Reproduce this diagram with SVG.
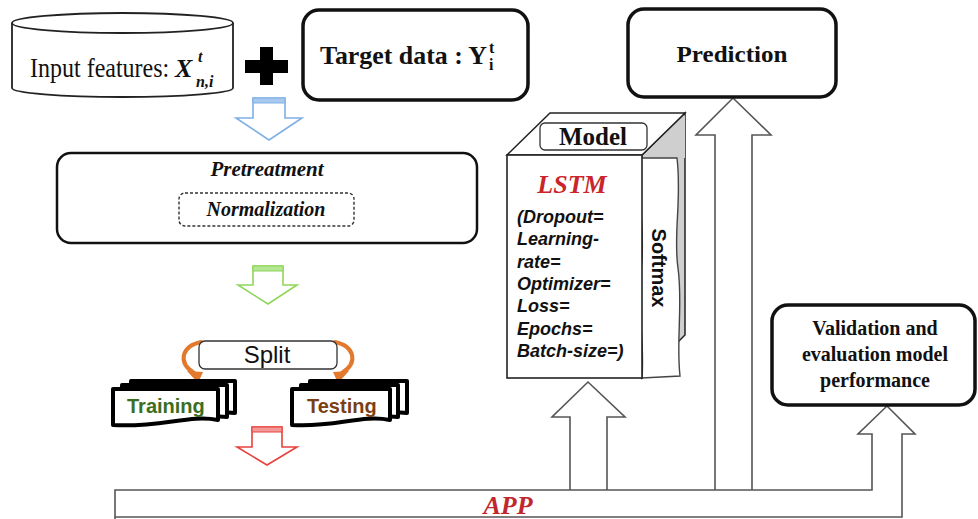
<svg xmlns="http://www.w3.org/2000/svg" width="978" height="519" viewBox="0 0 978 519">
<defs>
<style>
.serif{font-family:"Liberation Serif","Times New Roman",serif}
.sans{font-family:"Liberation Sans",Arial,sans-serif}
.bold{font-weight:bold}
.ital{font-style:italic}
.box{fill:#fff;stroke:#111;stroke-width:3.5}
.big{fill:#fff;stroke:#555;stroke-width:1.6}
.doc{fill:#fff;stroke:#000;stroke-width:4;stroke-linejoin:round}
.orange{fill:none;stroke:#e2792d;stroke-width:4;stroke-linecap:round}
</style>
</defs>
<rect width="978" height="519" fill="#fff"/>

<g id="connectors">
  <!-- blue down arrow -->
  <path d="M253,98 V118 H236 L269,140 L302,118 H285 V98 Z" fill="#fff" stroke="#7fb0e6" stroke-width="1.6"/>
  <rect x="253" y="98" width="32" height="5" fill="#a9c8ee" stroke="#7fb0e6" stroke-width="1"/>
  <!-- green down arrow -->
  <path d="M253,266 V285 H238 L268,304 L297,285 H283 V266 Z" fill="#fff" stroke="#8fd65a" stroke-width="1.6"/>
  <rect x="253" y="266" width="30" height="5" fill="#b5e693" stroke="#8fd65a" stroke-width="1"/>
  <!-- red down arrow -->
  <path d="M252,427 V447 H237 L267,465 L297,447 H282 V427 Z" fill="#fff" stroke="#e8413c" stroke-width="1.6"/>
  <rect x="252" y="427" width="30" height="5" fill="#f19a97" stroke="#e8413c" stroke-width="1"/>
  <!-- orange curved arrows -->
  <path class="orange" d="M201,342 C182,346 177,362 194,373"/>
  <polygon points="187,371 203,372 198,383" fill="#e2792d"/>
  <path class="orange" d="M335,342 C354,346 359,362 342,373"/>
  <polygon points="349,371 333,372 338,383" fill="#e2792d"/>
  <!-- big hollow arrows -->
  <path class="big" d="M570,490 V417 H552 L588,382 L625,417 H607 V490"/>
  <path class="big" d="M715,490 V135 H696 L733,98 L771,135 H752 V490"/>
</g>

<g id="app">
  <path class="big" d="M115,519 V490 H872 V434 H858 L887,406 L915,434 H902 V517 H115" fill="none"/>
  <text x="508" y="514" text-anchor="middle" class="serif bold ital" font-size="26" fill="#c0282d">APP</text>
</g>

<g id="input">
  <path d="M12,23 V88 A110.5,9 0 0 0 233,88 V23" fill="#fff" stroke="#222" stroke-width="1.8"/>
  <ellipse cx="122.5" cy="23" rx="110.5" ry="10" fill="#fff" stroke="#222" stroke-width="1.8"/>
  <text transform="translate(30,77) scale(1,1.15)" class="serif" font-size="24" fill="#111">Input features:</text>
  <text x="175" y="77" class="serif bold ital" font-size="26" fill="#111">X</text>
  <text x="198" y="62" class="serif bold ital" font-size="16" fill="#111">t</text>
  <text x="196" y="87" class="serif bold ital" font-size="16" fill="#111">n,i</text>
</g>

<g id="plus">
  <rect x="245" y="60" width="43" height="13" fill="#000"/>
  <rect x="260" y="47" width="13" height="38" fill="#000"/>
</g>

<g id="target">
  <rect x="303" y="10" width="225" height="90" rx="16" class="box"/>
  <text x="320" y="64" class="serif bold" font-size="26" textLength="167" lengthAdjust="spacingAndGlyphs" fill="#111">Target data : Y</text>
  <text x="489" y="53" class="serif bold" font-size="16" fill="#111">t</text>
  <text x="489" y="70" class="serif bold" font-size="16" fill="#111">i</text>
</g>

<g id="pretreatment">
  <rect x="57" y="153" width="420" height="90" rx="14" fill="#fff" stroke="#111" stroke-width="2.5"/>
  <text x="267" y="176" text-anchor="middle" class="serif bold ital" font-size="21" fill="#111">Pretreatment</text>
  <rect x="179" y="193" width="175" height="33" rx="6" fill="#fff" stroke="#333" stroke-width="1.4" stroke-dasharray="3,2"/>
  <text x="266" y="216" text-anchor="middle" class="serif bold ital" font-size="20" fill="#111">Normalization</text>
</g>

<g id="split">
  <rect x="199" y="341" width="138" height="28" rx="6" fill="#fff" stroke="#333" stroke-width="1.3"/>
  <text x="267" y="363" text-anchor="middle" class="sans" font-size="24" fill="#111">Split</text>
</g>

<g id="training">
  <path class="doc" d="M131,381 H235 V413 C220,410 200,418 131,416 Z"/>
  <path class="doc" d="M122,385 H227 V417 C210,414 190,422 122,420 Z"/>
  <path class="doc" d="M113,389 H218 V420 C190,414 160,428 113,425 Z"/>
  <text x="127" y="413" class="sans bold" font-size="20" fill="#3b6e1e">Training</text>
</g>

<g id="testing">
  <path class="doc" d="M310,381 H407 V413 C392,410 372,418 310,416 Z"/>
  <path class="doc" d="M301,385 H398 V417 C382,414 362,422 301,420 Z"/>
  <path class="doc" d="M292,389 H390 V420 C362,414 334,428 292,425 Z"/>
  <text x="307" y="413" class="sans bold" font-size="20" fill="#7b3f14">Testing</text>
</g>

<g id="model">
  <polygon points="642,155 685,113 685,335 642,378" fill="#cfcfcf" stroke="#222" stroke-width="1.5"/>
  <polygon points="507,155 550,113 685,113 642,155" fill="#fff" stroke="#222" stroke-width="1.5"/>
  <polygon points="642,157 685,115 685,158" fill="#cfcfcf"/>
  <path d="M641,158 H677 C682,200 673,235 678,268 C683,305 676,340 680,376 L642,378 C645,340 636,300 641,270 C646,235 637,200 641,158 Z" fill="#fff" stroke="#444" stroke-width="1.4"/>
  <rect x="507" y="155" width="135" height="223" fill="#fff" stroke="#222" stroke-width="1.6"/>
  <rect x="540" y="123" width="107" height="27" rx="5" fill="#fff" stroke="#333" stroke-width="1.3"/>
  <text x="593" y="145" text-anchor="middle" class="serif bold" font-size="25" fill="#111">Model</text>
  <text x="572" y="193" text-anchor="middle" class="serif bold ital" font-size="26" fill="#c9252b">LSTM</text>
  <g class="sans bold ital" font-size="18" fill="#111">
    <text x="517" y="223">(Dropout=</text>
    <text x="517" y="245">Learning-</text>
    <text x="517" y="268">rate=</text>
    <text x="517" y="290">Optimizer=</text>
    <text x="517" y="312">Loss=</text>
    <text x="517" y="335">Epochs=</text>
    <text x="517" y="357">Batch-size=)</text>
  </g>
  <text x="0" y="0" transform="translate(652,268) rotate(90)" text-anchor="middle" class="sans bold" font-size="20" fill="#111">Softmax</text>
</g>

<g id="prediction">
  <rect x="628" y="9" width="208" height="88" rx="16" class="box"/>
  <text x="732" y="62" text-anchor="middle" class="serif bold" font-size="23" textLength="111" lengthAdjust="spacingAndGlyphs" fill="#111">Prediction</text>
</g>

<g id="validation">
  <rect x="772" y="305" width="203" height="100" rx="16" class="box"/>
  <g class="serif bold" font-size="20" fill="#111" text-anchor="middle">
    <text x="875" y="335">Validation and</text>
    <text x="875" y="361">evaluation model</text>
    <text x="875" y="387">performance</text>
  </g>
</g>
</svg>
